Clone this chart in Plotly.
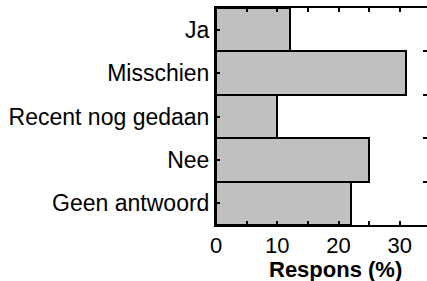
import plotly.graph_objects as go

categories = ["Ja", "Misschien", "Recent nog gedaan", "Nee", "Geen antwoord"]
values = [12, 31, 10, 25, 22]
x_tickvals = [0, 5, 10, 15, 20, 25, 30]
x_ticktext = ["0", "", "10", "", "20", "", "30"]
boundaries = [0.5, 1.5, 2.5, 3.5]
x_title = "Respons (%)"

FONT = "Liberation Sans, Arial, sans-serif"
FS = 23

fig = go.Figure()
fig.add_trace(go.Bar(
    y=list(range(len(categories))), x=values, orientation="h",
    marker=dict(color="#c0c0c0", line=dict(color="black", width=2)),
    width=1.0, showlegend=False, hoverinfo="skip",
))
# invisible trace to activate right-side tick axis
fig.add_trace(go.Scatter(x=[None], y=[None], yaxis="y2", showlegend=False,
                         hoverinfo="skip"))

fig.update_layout(
    width=427, height=281,
    margin=dict(l=216, r=0, t=8, b=56),
    paper_bgcolor="white", plot_bgcolor="white",
    bargap=0,
    font=dict(family=FONT, size=FS, color="black"),
    xaxis=dict(
        range=[0, 34.43], tickmode="array",
        tickvals=x_tickvals, ticktext=x_ticktext,
        ticks="inside", ticklen=4, tickwidth=1.5, tickcolor="black",
        showline=True, linecolor="black", linewidth=2, mirror="ticks",
        showgrid=False, zeroline=False,
        tickfont=dict(size=22),
    ),
    yaxis=dict(
        range=[4.5, -0.5], tickmode="array",
        tickvals=list(range(len(categories))), ticktext=categories,
        ticks="inside", ticklen=4, tickwidth=1.5, tickcolor="black",
        showline=True, linecolor="black", linewidth=2, mirror=False,
        showgrid=False, zeroline=False, tickfont=dict(size=FS),
    ),
    yaxis2=dict(
        overlaying="y", side="right", range=[4.5, -0.5],
        tickmode="array", tickvals=boundaries, showticklabels=False,
        ticks="inside", ticklen=4, tickwidth=1.5, tickcolor="black",
        showline=False, showgrid=False, zeroline=False,
    ),
    annotations=[dict(
        text="<b>" + x_title + "</b>", xref="paper", yref="paper",
        x=0.564, y=-0.205, xanchor="center", yanchor="middle",
        showarrow=False, font=dict(size=22, family=FONT, color="black"),
    )],
)

fig.write_html(
    "out.html",
    config={"displayModeBar": False},
    post_script="document.body.style.margin='0';document.body.style.overflow='hidden';",
)
